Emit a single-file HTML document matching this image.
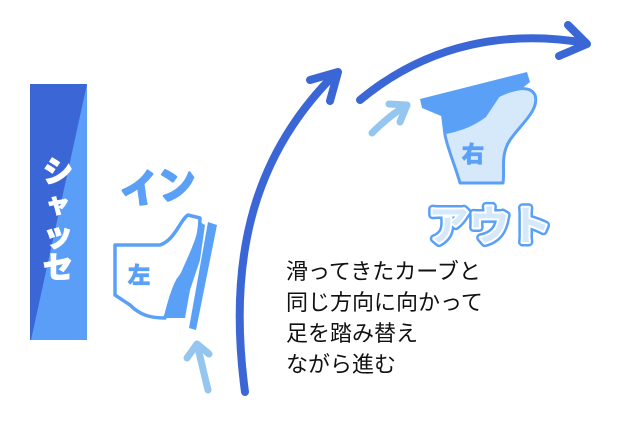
<!DOCTYPE html>
<html><head><meta charset="utf-8"><style>
html,body{margin:0;padding:0;background:#fff;width:629px;height:422px;overflow:hidden}
svg{display:block}
</style></head><body>
<svg width="629" height="422" viewBox="0 0 629 422" xmlns="http://www.w3.org/2000/svg">
<rect x="30" y="84" width="57" height="256" fill="#5a9ef8"/>
<polygon points="30,84 87,84 31,340 30,340" fill="#3b67d6"/>
<g fill="#fff" stroke="#fff" stroke-width="1.6" font-family="Liberation Sans,'Noto Sans CJK JP',sans-serif" font-weight="bold" text-anchor="middle">
<text x="58" y="182" font-size="30">シ</text>
<text x="58" y="212" font-size="24">ャ</text>
<text x="58" y="246" font-size="30">ッ</text>
<text x="58" y="278" font-size="30">セ</text>
</g>

<g fill="none" stroke="#3b67d6" stroke-width="8" stroke-linecap="round" stroke-linejoin="round">
<path d="M245,392 C226,250 258,150 336,73"/>
<path d="M310,80 L338,72 L330,101"/>
<path d="M360,100 C430,42 510,30 586,43"/>
<path d="M568,25 L587,44 L559,56"/>
</g>
<g fill="none" stroke="#94c6ef" stroke-width="7" stroke-linecap="round" stroke-linejoin="round">
<path d="M208,390 C203,370 200,355 197,345"/>
<path d="M187,358 L197,344 L209,354"/>
<path d="M372,133 C385,120 395,112 406,106"/>
<path d="M389,104 L407,105 L400,122"/>
</g>

<text x="120" y="200" fill="#5aa0f7" stroke="#5aa0f7" stroke-width="2.5" stroke-linejoin="round" font-family="Liberation Sans,'Noto Sans CJK JP',sans-serif" font-weight="bold" font-size="38" transform="rotate(-8 160 185)">イン</text>

<!-- left boot -->
<path d="M115,245 L160,245 C175,240 180,220 188,215 L200,218 C200,240 190,265 178,280 C170,295 168,310 165,318 C150,318 140,315 130,305 L115,295 Z" fill="#fff" stroke="#5aa0f7" stroke-width="3.5" stroke-linejoin="round"/>
<path d="M178,280 C185,262 195,245 200,222 L205,225 L200,260 L190,290 L185,318 L165,318 C168,305 172,292 178,280Z" fill="#5aa0f7"/>
<path d="M208,222 L217,225 L196,330 L189,328 Z" fill="#5aa0f7"/>
<text x="128" y="283" fill="#5aa0f7" stroke="#5aa0f7" stroke-width="1.2" font-family="Liberation Sans,'Noto Sans CJK JP',sans-serif" font-weight="bold" font-size="22">左</text>

<!-- right boot -->
<path d="M442,110 L500,95 C515,88 530,85 535,95 C540,110 520,125 510,140 C500,155 505,170 503,183 L460,183 C455,165 448,150 445,135 Z" fill="#d6e9fa" stroke="#5aa0f7" stroke-width="3" stroke-linejoin="round"/>
<path d="M443,110 L500,96 L486,117 C475,125 465,130 446,134 Z" fill="#5aa0f7"/>
<path d="M420,99 L527,72 L530,82 L520,90 L490,97 L478,102 L446,112 L446,118 L422,108 Z" fill="#5aa0f7"/>
<text x="462" y="162" fill="#5aa0f7" stroke="#5aa0f7" stroke-width="1.2" font-family="Liberation Sans,'Noto Sans CJK JP',sans-serif" font-weight="bold" font-size="22">右</text>

<text x="428" y="240" fill="#5aa0f7" stroke="#5aa0f7" stroke-width="9" stroke-linejoin="round" font-family="Liberation Sans,'Noto Sans CJK JP',sans-serif" font-weight="bold" font-size="41">アウト</text>
<text x="428" y="240" fill="#d6e9fa" stroke="#fff" stroke-width="4" paint-order="stroke" stroke-linejoin="round" font-family="Liberation Sans,'Noto Sans CJK JP',sans-serif" font-weight="bold" font-size="41">アウト</text>

<g font-family="Liberation Sans,'Noto Sans CJK JP',sans-serif" font-size="22" fill="#111">
<text x="286" y="279">滑ってきたカーブと</text>
<text x="286" y="310">同じ方向に向かって</text>
<text x="286" y="341">足を踏み替え</text>
<text x="286" y="372">ながら進む</text>
</g>
</svg>
</body></html>
